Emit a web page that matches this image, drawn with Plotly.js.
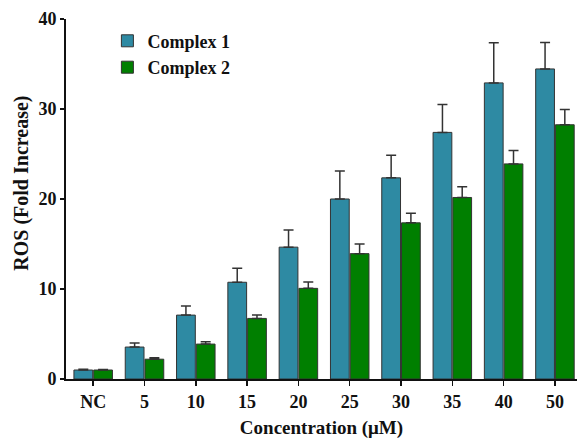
<!DOCTYPE html>
<html>
<head>
<meta charset="utf-8">
<script src="https://cdn.plot.ly/plotly-3.0.1.min.js"></script>
<style>html,body{margin:0;padding:0;background:#fff}#chart{width:577px;height:439px}</style>
</head>
<body>
<div id="chart"></div>
<script>
const categories = ["NC", "5", "10", "15", "20", "25", "30", "35", "40", "50"];
const complex1 = [1.0, 3.55, 7.1, 10.75, 14.65, 20.0, 22.35, 27.4, 32.9, 34.45];
const complex1Err = [0.08, 0.45, 1.0, 1.55, 1.9, 3.1, 2.5, 3.1, 4.45, 2.95];
const complex2 = [1.0, 2.2, 3.88, 6.73, 10.07, 13.93, 17.35, 20.17, 23.9, 28.25];
const complex2Err = [0.06, 0.15, 0.25, 0.37, 0.7, 1.08, 1.08, 1.2, 1.5, 1.7];
const zeros = categories.map(() => 0);

const FONT = "Liberation Serif, Times New Roman, serif";
const errStyle = {color: "#333333", thickness: 1.5, width: 5};

const traces = [
  {
    type: "bar", name: "Complex 1", x: categories, y: complex1,
    marker: {color: "#2E8AA3", line: {color: "#333333", width: 1}},
    error_y: Object.assign({type: "data", symmetric: false, array: complex1Err, arrayminus: zeros}, errStyle)
  },
  {
    type: "bar", name: "Complex 2", x: categories, y: complex2,
    marker: {color: "#007F00", line: {color: "#333333", width: 1}},
    error_y: Object.assign({type: "data", symmetric: false, array: complex2Err, arrayminus: zeros}, errStyle)
  }
];

const layout = {
  width: 577, height: 439,
  margin: {l: 65.5, r: 0, t: 19.3, b: 60.3},
  paper_bgcolor: "#ffffff", plot_bgcolor: "#ffffff",
  font: {family: FONT, size: 18, color: "#111111", weight: "bold"},
  barmode: "group", bargap: 0.23, bargroupgap: 0.05,
  showlegend: true,
  legend: {
    x: 0.081, y: 0.99, xanchor: "left", yanchor: "top",
    bgcolor: "rgba(0,0,0,0)", borderwidth: 0,
    font: {family: FONT, size: 18, weight: "bold", color: "#111111"}
  },
  xaxis: {
    type: "category", range: [-0.53, 9.43],
    showline: true, linecolor: "#111111", linewidth: 2,
    ticks: "outside", ticklen: 5, tickwidth: 1.5, tickcolor: "#111111",
    showgrid: false, zeroline: false,
    tickfont: {family: FONT, size: 18, weight: "bold", color: "#111111"},
    title: {text: "Concentration (μM)", font: {family: FONT, size: 19, weight: "bold", color: "#111111"}, standoff: 11}
  },
  yaxis: {
    range: [0, 40], tickvals: [0, 10, 20, 30, 40],
    showline: true, linecolor: "#111111", linewidth: 2,
    ticks: "outside", ticklen: 4, tickwidth: 1.5, tickcolor: "#111111",
    showgrid: false, zeroline: false,
    tickfont: {family: FONT, size: 18, weight: "bold", color: "#111111"}
  },
  annotations: [{
    text: "ROS (Fold Increase)", textangle: -90, showarrow: false,
    xref: "paper", yref: "paper", x: -0.087, y: 0.544,
    xanchor: "center", yanchor: "middle",
    font: {family: FONT, size: 20, weight: "bold", color: "#111111"}
  }]
};

Plotly.newPlot("chart", traces, layout, {displayModeBar: false, staticPlot: true});
</script>
</body>
</html>
